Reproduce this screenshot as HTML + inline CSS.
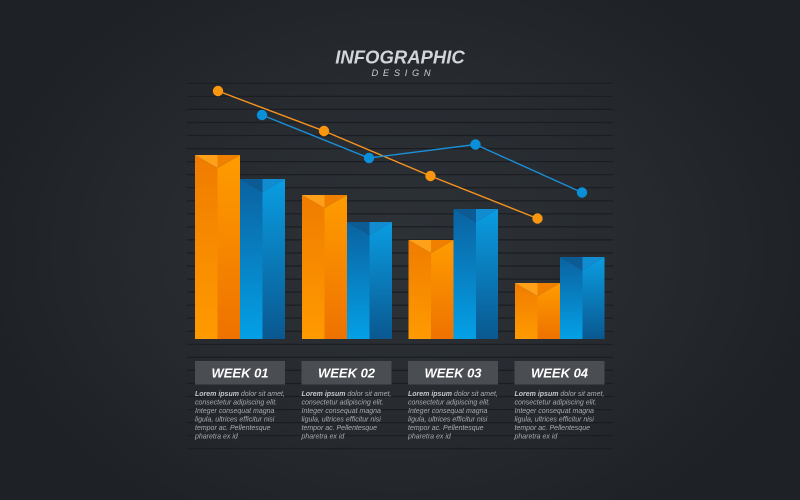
<!DOCTYPE html>
<html>
<head>
<meta charset="utf-8">
<style>
html,body{margin:0;padding:0;width:800px;height:500px;overflow:hidden;background:#23272b;}
svg{display:block;}
</style>
</head>
<body>
<svg width="800" height="500" viewBox="0 0 800 500" xmlns="http://www.w3.org/2000/svg">
<defs>
<radialGradient id="bg" cx="400" cy="250" r="420" gradientUnits="userSpaceOnUse" gradientTransform="translate(400 250) scale(1 0.75) translate(-400 -250)">
<stop offset="0" stop-color="#2d3237"/>
<stop offset="0.55" stop-color="#272b30"/>
<stop offset="1" stop-color="#1e2226"/>
</radialGradient>
<linearGradient id="oL" x1="0" y1="0" x2="0" y2="1">
<stop offset="0" stop-color="#f07c00"/>
<stop offset="1" stop-color="#ff9a00"/>
</linearGradient>
<linearGradient id="oR" x1="0" y1="0" x2="0" y2="1">
<stop offset="0" stop-color="#ff9c00"/>
<stop offset="1" stop-color="#ee7200"/>
</linearGradient>
<linearGradient id="bL" x1="0" y1="0" x2="0" y2="1">
<stop offset="0" stop-color="#0b62a0"/>
<stop offset="1" stop-color="#04a0e6"/>
</linearGradient>
<linearGradient id="bR" x1="0" y1="0" x2="0" y2="1">
<stop offset="0" stop-color="#0a9de2"/>
<stop offset="1" stop-color="#0a5890"/>
</linearGradient>
</defs>
<rect x="0" y="0" width="800" height="500" fill="url(#bg)"/>

<!-- grid lines -->
<g stroke="#1a1d21" stroke-width="1.2">
<line x1="187" y1="83.3" x2="613" y2="83.3"/>
<line x1="187" y1="96.4" x2="613" y2="96.4"/>
<line x1="187" y1="109.4" x2="613" y2="109.4"/>
<line x1="187" y1="122.5" x2="613" y2="122.5"/>
<line x1="187" y1="135.5" x2="613" y2="135.5"/>
<line x1="187" y1="148.6" x2="613" y2="148.6"/>
<line x1="187" y1="161.6" x2="613" y2="161.6"/>
<line x1="187" y1="174.7" x2="613" y2="174.7"/>
<line x1="187" y1="187.7" x2="613" y2="187.7"/>
<line x1="187" y1="200.8" x2="613" y2="200.8"/>
<line x1="187" y1="213.8" x2="613" y2="213.8"/>
<line x1="187" y1="226.9" x2="613" y2="226.9"/>
<line x1="187" y1="239.9" x2="613" y2="239.9"/>
<line x1="187" y1="253.0" x2="613" y2="253.0"/>
<line x1="187" y1="266.0" x2="613" y2="266.0"/>
<line x1="187" y1="279.1" x2="613" y2="279.1"/>
<line x1="187" y1="292.1" x2="613" y2="292.1"/>
<line x1="187" y1="305.2" x2="613" y2="305.2"/>
<line x1="187" y1="318.2" x2="613" y2="318.2"/>
<line x1="187" y1="331.3" x2="613" y2="331.3"/>
<line x1="187" y1="344.3" x2="613" y2="344.3"/>
<line x1="187" y1="357.4" x2="613" y2="357.4"/>
<line x1="187" y1="370.4" x2="613" y2="370.4"/>
<line x1="187" y1="383.5" x2="613" y2="383.5"/>
<line x1="187" y1="396.5" x2="613" y2="396.5"/>
<line x1="187" y1="409.6" x2="613" y2="409.6"/>
<line x1="187" y1="422.6" x2="613" y2="422.6"/>
<line x1="187" y1="435.7" x2="613" y2="435.7"/>
<line x1="187" y1="448.7" x2="613" y2="448.7"/>
</g>

<!-- title -->
<text x="400" y="63.3" text-anchor="middle" font-family="Liberation Sans, sans-serif" font-size="18.5" font-weight="bold" font-style="italic" fill="#d3d5d8">INFOGRAPHIC</text>
<text x="371.5" y="76" font-family="Liberation Sans, sans-serif" font-size="9.3" font-style="italic" letter-spacing="4.7" fill="#c9cbce">DESIGN</text>

<!-- bars: week 1 -->
<g>
<polygon points="195,155 217.5,168 217.5,339 195,339" fill="url(#oL)"/>
<polygon points="217.5,168 240,155 240,339 217.5,339" fill="url(#oR)"/>
<polygon points="195,155 217.5,155 217.5,168" fill="#ffa01a"/>
<polygon points="217.5,155 240,155 217.5,168" fill="#f28000"/>

<polygon points="240,179 262.5,192 262.5,339 240,339" fill="url(#bL)"/>
<polygon points="262.5,192 285,179 285,339 262.5,339" fill="url(#bR)"/>
<polygon points="240,179 262.5,179 262.5,192" fill="#0c5b94"/>
<polygon points="262.5,179 285,179 262.5,192" fill="#118cd0"/>
</g>
<!-- week 2 -->
<g>
<polygon points="302,195 324.5,208 324.5,339 302,339" fill="url(#oL)"/>
<polygon points="324.5,208 347,195 347,339 324.5,339" fill="url(#oR)"/>
<polygon points="302,195 324.5,195 324.5,208" fill="#ffa01a"/>
<polygon points="324.5,195 347,195 324.5,208" fill="#f28000"/>

<polygon points="347,222 369.5,235 369.5,339 347,339" fill="url(#bL)"/>
<polygon points="369.5,235 392,222 392,339 369.5,339" fill="url(#bR)"/>
<polygon points="347,222 369.5,222 369.5,235" fill="#0c5b94"/>
<polygon points="369.5,222 392,222 369.5,235" fill="#118cd0"/>
</g>
<!-- week 3 -->
<g>
<polygon points="408.5,240 431,253 431,339 408.5,339" fill="url(#oL)"/>
<polygon points="431,253 453.5,240 453.5,339 431,339" fill="url(#oR)"/>
<polygon points="408.5,240 431,240 431,253" fill="#ffa01a"/>
<polygon points="431,240 453.5,240 431,253" fill="#f28000"/>

<polygon points="453.5,209 476,222 476,339 453.5,339" fill="url(#bL)"/>
<polygon points="476,222 498,209 498,339 476,339" fill="url(#bR)"/>
<polygon points="453.5,209 476,209 476,222" fill="#0c5b94"/>
<polygon points="476,209 498,209 476,222" fill="#118cd0"/>
</g>
<!-- week 4 -->
<g>
<polygon points="515,283 537.5,296 537.5,339 515,339" fill="url(#oL)"/>
<polygon points="537.5,296 560,283 560,339 537.5,339" fill="url(#oR)"/>
<polygon points="515,283 537.5,283 537.5,296" fill="#ffa01a"/>
<polygon points="537.5,283 560,283 537.5,296" fill="#f28000"/>

<polygon points="560,257 582.5,270 582.5,339 560,339" fill="url(#bL)"/>
<polygon points="582.5,270 604.5,257 604.5,339 582.5,339" fill="url(#bR)"/>
<polygon points="560,257 582.5,257 582.5,270" fill="#0c5b94"/>
<polygon points="582.5,257 604.5,257 582.5,270" fill="#118cd0"/>
</g>

<!-- lines -->
<polyline points="218,91 324,131 430.5,176 537.5,218.5" fill="none" stroke="#f7941d" stroke-width="1.4"/>
<polyline points="262,115 369,158 475.5,144.5 582,192.5" fill="none" stroke="#1a8fd6" stroke-width="1.4"/>
<g fill="#f9960f">
<circle cx="218" cy="91" r="5.2"/>
<circle cx="324" cy="131" r="5.2"/>
<circle cx="430.5" cy="176" r="5.2"/>
<circle cx="537.5" cy="218.5" r="5.2"/>
</g>
<g fill="#0a90d8">
<circle cx="262" cy="115" r="5.2"/>
<circle cx="369" cy="158" r="5.2"/>
<circle cx="475.5" cy="144.5" r="5.2"/>
<circle cx="582" cy="192.5" r="5.2"/>
</g>

<!-- week boxes -->
<g fill="#4a4d51">
<rect x="195" y="361" width="90" height="23.5"/>
<rect x="301.5" y="361" width="90" height="23.5"/>
<rect x="408" y="361" width="90" height="23.5"/>
<rect x="514.5" y="361" width="90" height="23.5"/>
</g>
<g font-family="Liberation Sans, sans-serif" font-size="13" font-weight="bold" font-style="italic" fill="#ffffff" text-anchor="middle">
<text x="240" y="377.5">WEEK 01</text>
<text x="346.5" y="377.5">WEEK 02</text>
<text x="453" y="377.5">WEEK 03</text>
<text x="559.5" y="377.5">WEEK 04</text>
</g>

<!-- body text -->
<g font-family="Liberation Sans, sans-serif" font-size="7" font-style="italic" fill="#a9acb1">
<text x="195" y="395.8"><tspan font-weight="bold" fill="#c4c6ca">Lorem ipsum</tspan> dolor sit amet,</text>
<text x="195" y="404.35">consectetur adipiscing elit.</text>
<text x="195" y="412.9">Integer consequat magna</text>
<text x="195" y="421.45">ligula, ultrices efficitur nisi</text>
<text x="195" y="430">tempor ac. Pellentesque</text>
<text x="195" y="438.55">pharetra ex id</text>

<text x="301.5" y="395.8"><tspan font-weight="bold" fill="#c4c6ca">Lorem ipsum</tspan> dolor sit amet,</text>
<text x="301.5" y="404.35">consectetur adipiscing elit.</text>
<text x="301.5" y="412.9">Integer consequat magna</text>
<text x="301.5" y="421.45">ligula, ultrices efficitur nisi</text>
<text x="301.5" y="430">tempor ac. Pellentesque</text>
<text x="301.5" y="438.55">pharetra ex id</text>

<text x="408" y="395.8"><tspan font-weight="bold" fill="#c4c6ca">Lorem ipsum</tspan> dolor sit amet,</text>
<text x="408" y="404.35">consectetur adipiscing elit.</text>
<text x="408" y="412.9">Integer consequat magna</text>
<text x="408" y="421.45">ligula, ultrices efficitur nisi</text>
<text x="408" y="430">tempor ac. Pellentesque</text>
<text x="408" y="438.55">pharetra ex id</text>

<text x="514.5" y="395.8"><tspan font-weight="bold" fill="#c4c6ca">Lorem ipsum</tspan> dolor sit amet,</text>
<text x="514.5" y="404.35">consectetur adipiscing elit.</text>
<text x="514.5" y="412.9">Integer consequat magna</text>
<text x="514.5" y="421.45">ligula, ultrices efficitur nisi</text>
<text x="514.5" y="430">tempor ac. Pellentesque</text>
<text x="514.5" y="438.55">pharetra ex id</text>
</g>
</svg>
</body>
</html>
